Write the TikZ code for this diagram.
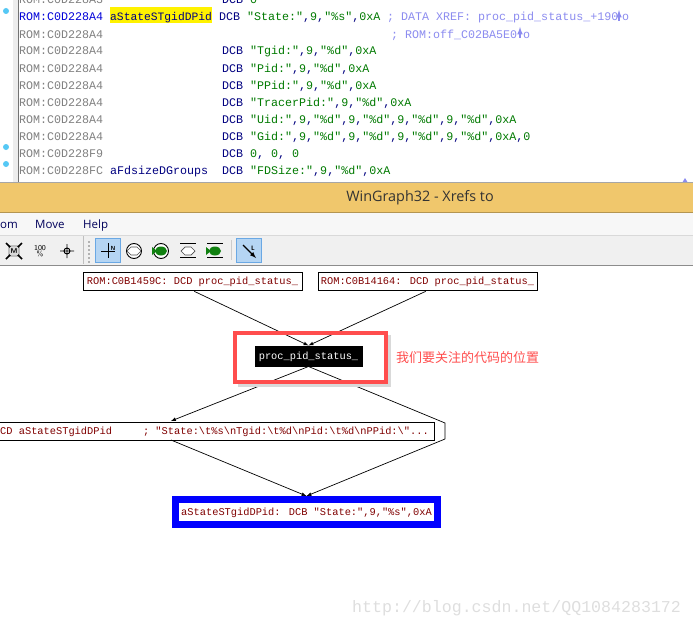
\documentclass[tikz,border=0pt]{standalone}
\usepackage{fontspec}
\usetikzlibrary{positioning}
\newfontfamily\codefont{Liberation Mono}
\newfontfamily\uifont{Open Sans}
\newfontfamily\cjkfont{Noto Sans CJK SC}
\definecolor{romgray}{HTML}{808080}
\definecolor{dcbblue}{HTML}{000080}
\definecolor{strgreen}{HTML}{007A00}
\definecolor{cmtblue}{HTML}{8C8CF0}
\definecolor{dotblue}{HTML}{55C8F5}
\definecolor{titlebar}{HTML}{F0C76C}
\definecolor{graphred}{HTML}{800000}
\definecolor{markred}{HTML}{FF4D4D}
\definecolor{btnblue}{HTML}{B5D5F3}
\definecolor{btnedge}{HTML}{6AA8E4}
\definecolor{fishgreen}{HTML}{108010}
\def\cma{\textcolor{dcbblue}{,}}
\tikzset{
    codeline/.style={anchor=base west, inner sep=0pt, font=\codefont\fontsize{11.67}{14}\selectfont},
    cmtline/.style={codeline, text=cmtblue},
    menuitem/.style={anchor=base west, inner sep=0pt, text=dcbblue!70!black, font=\uifont\fontsize{11.5}{14}\selectfont},
    graphnode/.style={draw=black, line width=1pt, fill=white, inner sep=0pt, text=graphred,
        minimum height=18pt, text height=8pt, text depth=2pt,
        font=\codefont\fontsize{10.35}{12}\selectfont},
    edge/.style={draw=black, line width=0.7pt},
    tbtn/.style={draw=btnedge, fill=btnblue, line width=0.8pt},
    tline/.style={draw=black, line width=0.9pt}
}
\begin{document}
\begin{tikzpicture}[x=1pt, y=-1pt]
\useasboundingbox (0,0) rectangle (693,626);

% code listing on top
\fill[white] (0,0) rectangle (693,183);
\fill[black!7] (13,0) rectangle (18,183);
\draw[black!55, line width=0.8pt] (18.5,0)--(18.5,183);
\foreach \dotname/\doty in {dotA/11, dotB/147, dotC/164}
{
    \fill[dotblue] (6,\doty) circle (3pt);
}
\fill[yellow] (110,7) rectangle (212,23.5);

\node[codeline, text=romgray] (addr0) at (19,4) {ROM:C0D228A3};
\node[codeline, text=dcbblue] (body0) at (222,4) {DCB \textcolor{strgreen}{0}};
\node[codeline, text=blue!85!black] (addr1) at (19,21) {ROM:C0D228A4};
\node[codeline, text=dcbblue, font=\codefont\fontsize{11.3}{14}\selectfont] (label1) at (110,21) {aStateSTgidDPid};
\node[codeline, text=dcbblue] (body1) at (219,21) {DCB \textcolor{strgreen}{"State:"\cma 9\cma "\%s"\cma 0xA}};
\node[cmtline] (cmt1) at (387,21) {; DATA XREF: proc\_pid\_status\_+190};
\node[cmtline] (cmto1) at (622,21) {o};
\node[cmtline] (cmt2) at (391,38) {; ROM:off\_C02BA5E0};
\node[cmtline] (cmto2) at (523,38) {o};
\foreach \arrowx/\arrowy in {619/10, 520/27}
{
    \draw[cmtblue, line width=1.5pt, -latex] (\arrowx,\arrowy+11)--(\arrowx,\arrowy);
}
\foreach \y/\addr in {38/A4, 55/A4, 72/A4, 89/A4, 106/A4, 123/A4, 140/A4, 157/F9, 174/FC}
{
    \node[codeline, text=romgray] (addr\y) at (19,\y) {ROM:C0D228\addr};
}
\foreach \y/\body in {
    55/{"Tgid:"\cma 9\cma "\%d"\cma 0xA},
    72/{"Pid:"\cma 9\cma "\%d"\cma 0xA},
    89/{"PPid:"\cma 9\cma "\%d"\cma 0xA},
    106/{"TracerPid:"\cma 9\cma "\%d"\cma 0xA},
    123/{"Uid:"\cma 9\cma "\%d"\cma 9\cma "\%d"\cma 9\cma "\%d"\cma 9\cma "\%d"\cma 0xA},
    140/{"Gid:"\cma 9\cma "\%d"\cma 9\cma "\%d"\cma 9\cma "\%d"\cma 9\cma "\%d"\cma 0xA\cma 0},
    157/{0\cma{} 0\cma{} 0},
    174/{"FDSize:"\cma 9\cma "\%d"\cma 0xA}}
{
    \node[codeline, text=dcbblue] (body\y) at (222,\y) {DCB \textcolor{strgreen}{\body}};
}
\node[codeline, text=dcbblue] (label2) at (110,174) {aFdsizeDGroups};
\fill[cmtblue] (682,183)--(685,178)--(688,183)--cycle;

% window chrome
\fill[titlebar] (0,183) rectangle (693,212);
\draw[black!35, line width=0.8pt] (0,182.5)--(693,182.5);
\draw[titlebar!75!black, line width=0.8pt] (0,212)--(693,212);
\node[inner sep=0pt, text=black!80, font=\uifont\fontsize{14.4}{16}\selectfont] (wintitle) at (420,198) {WinGraph32 - Xrefs to};
\fill[black!3] (0,212.5) rectangle (693,235);
\fill[black!6] (0,235) rectangle (693,265);
\draw[black!15, line width=0.8pt] (0,235.5)--(693,235.5);
\draw[black!45, line width=1pt] (0,265.5)--(693,265.5);
\node[menuitem] (menuzoom) at (0,228) {om};
\node[menuitem] (menumove) at (35,228) {Move};
\node[menuitem] (menuhelp) at (83,228) {Help};
\draw[black!25, line width=0.8pt] (83,236)--(83,264);

% toolbar
\fill[black!25] (8,245) rectangle (20,257);
\foreach \sx/\sy in {6/243, 22/243, 6/259, 22/259}
{
    \draw[black, line width=1.6pt] (\sx,\sy)--(14,251);
}
\fill[black!15] (10,247) rectangle (18,255);
\node[inner sep=0pt, font=\sffamily\bfseries\fontsize{7}{8}\selectfont] (iconfit) at (14,251) {M};
\node[inner sep=0pt, align=center, font=\sffamily\fontsize{7.5}{7.5}\selectfont] (iconzoom) at (40,251) {100\\[-1pt]\%};
\draw[tline] (67,244)--(67,258) (60,251)--(74,251) (67,251) circle (3pt);
\foreach \griprow in {241,245,...,261}
{
    \fill[black!30] (88,\griprow) rectangle (90,\griprow+2);
}
\draw[tbtn] (95,238.5) rectangle (120.5,262.5);
\draw[tline] (101,251)--(115,251) (108,243)--(108,258);
\node[inner sep=0pt, font=\sffamily\bfseries\fontsize{6}{7}\selectfont] (iconn) at (113,248) {N};
\foreach \cx in {134,161}
{
    \draw[tline, fill=white] (\cx,251) circle (7.5pt);
}
\foreach \cx in {188,215}
{
    \draw[tline] (\cx-8,243.5)--(\cx+8,243.5) (\cx-8,257.5)--(\cx+8,257.5);
}
\foreach \cx in {134,188}
{
    \draw[black!70, line width=0.7pt, fill=white] (\cx-7,251)--(\cx-3,247)--(\cx+3,247)--(\cx+7,251)--(\cx+3,255)--(\cx-3,255)--cycle;
}
\foreach \cx in {161,215}
{
    \fill[fishgreen] (\cx,251) ellipse (6pt and 4.5pt);
    \fill[fishgreen] (\cx-9,247)--(\cx-4,251)--(\cx-9,255)--cycle;
}
\draw[black!20, line width=1pt] (231,240)--(231,260);
\draw[tbtn] (236,238.5) rectangle (261,262.5);
\draw[tline, line width=1.1pt, -latex] (243,245)--(256,258);
\node[inner sep=0pt, font=\sffamily\bfseries\fontsize{6.5}{7}\selectfont] (iconl) at (253,248) {L};

% graph nodes
\node[graphnode, minimum width=219pt] (romA) at (192.5,281) {ROM:C0B1459C: DCD proc\_pid\_status\_};
\node[graphnode, minimum width=219pt] (romB) at (427.5,281) {ROM:C0B14164: DCD proc\_pid\_status\_};
\node[graphnode, draw=black, fill=black, text=white, minimum width=107pt, minimum height=20pt] (procnode) at (308.5,356) {proc\_pid\_status\_};
\node[graphnode, anchor=east, minimum width=445pt] (xrefbox) at (435,431) {\hspace{5pt}CD aStateSTgidDPid\ \ \ \ \ ; "State:\textbackslash t\%s\textbackslash nTgid:\textbackslash t\%d\textbackslash nPid:\textbackslash t\%d\textbackslash nPPid:\textbackslash "...};
\node[graphnode, draw=blue, line width=7pt, minimum width=262pt, minimum height=25pt] (dbnode) at (306.5,512) {aStateSTgidDPid: DCB "State:",9,"\%s",0xA};
\coordinate (xrefin) at (171,421);
\coordinate (xrefout) at (171,440);
\coordinate (bendtop) at (445,423);
\coordinate (bendbot) at (445,439);

% edges
\draw[edge, -latex, shorten <=2pt] (romA.south)--(procnode.north);
\draw[edge, -latex, shorten <=2pt] (romB.south)--(procnode.north);
\draw[edge, -latex] (procnode.south)--(xrefin);
\draw[edge] (procnode.south)--(bendtop)--(bendbot);
\draw[edge, -latex] (bendbot)--(dbnode.north);
\draw[edge, -latex] (xrefout)--(dbnode.north);

% red mark over the graph
\draw[black!15, line width=3pt] (238,385)--(389,385)--(389,335);
\draw[markred, line width=4pt] (235,332.5) rectangle (385.5,382);
\node[anchor=west, inner sep=0pt, text=markred, font=\cjkfont\fontsize{13}{15}\selectfont] (marktext) at (396,358) {我们要关注的代码的位置};

% watermark
\node[anchor=base west, inner sep=0pt, text=black!13, font=\codefont\fontsize{16.6}{18}\selectfont] (watermark) at (352,612) {http://blog.csdn.net/QQ1084283172};
\end{tikzpicture}
\end{document}
